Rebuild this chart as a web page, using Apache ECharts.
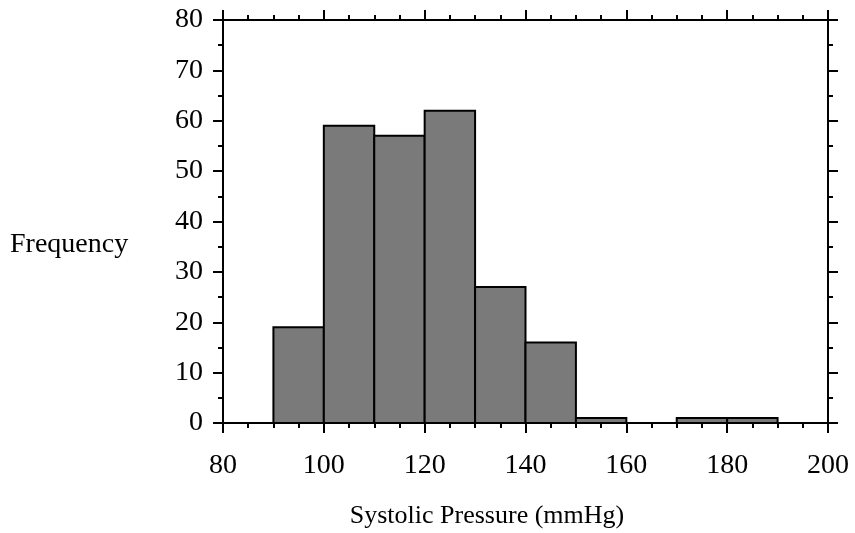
<!DOCTYPE html>
<html>
<head>
<meta charset="utf-8">
<script src="https://cdn.jsdelivr.net/npm/echarts@6/dist/echarts.min.js"></script>
<style>
  html, body { margin: 0; padding: 0; background: #ffffff; }
  #chart { width: 855px; height: 533px; }
</style>
</head>
<body>
<div id="chart"></div>
<script>
// Data
const binStarts = [90, 100, 110, 120, 130, 140, 150, 160, 170, 180];
const binWidth = 10;
const counts = [19, 59, 57, 62, 27, 16, 1, 0, 1, 1];
const xTicks = [80, 100, 120, 140, 160, 180, 200];
const yTicks = [0, 10, 20, 30, 40, 50, 60, 70, 80];
const xTitle = 'Systolic Pressure (mmHg)';
const yTitle = 'Frequency';

const FONT = '"Liberation Serif", "Times New Roman", serif';
const FS_TICK = 28;
const FS_YT = 28;
const FS_XT = 26;

const chart = echarts.init(document.getElementById('chart'), null, { renderer: 'canvas' });

const lineStyle = { color: '#000', width: 2 };
const tickCommon = { show: true, inside: false, length: 10, lineStyle: { color: '#000', width: 2 } };

const seriesData = binStarts.map((s, i) => [s, s + binWidth, counts[i]]);

const option = {
  animation: false,
  backgroundColor: '#ffffff',
  grid: { left: 223, right: 27, top: 20, bottom: 110, containLabel: false },
  xAxis: [
    {
      type: 'value', position: 'bottom', min: xTicks[0], max: xTicks[xTicks.length - 1], interval: 20,
      axisLine: { show: true, onZero: false, lineStyle },
      axisTick: tickCommon,
      minorTick: { show: true, splitNumber: 4, length: 5, lineStyle: { color: '#000', width: 2 } },
      splitLine: { show: false },
      axisLabel: { show: true, margin: 29, color: '#000', fontFamily: FONT, fontSize: FS_TICK }
    },
    {
      type: 'value', position: 'top', min: xTicks[0], max: xTicks[xTicks.length - 1], interval: 20,
      axisLine: { show: true, onZero: false, lineStyle },
      axisTick: tickCommon,
      minorTick: { show: true, splitNumber: 4, length: 5, lineStyle: { color: '#000', width: 2 } },
      splitLine: { show: false },
      axisLabel: { show: false }
    }
  ],
  yAxis: [
    {
      type: 'value', position: 'left', min: yTicks[0], max: yTicks[yTicks.length - 1], interval: 10,
      axisLine: { show: true, onZero: false, lineStyle },
      axisTick: tickCommon,
      minorTick: { show: true, splitNumber: 2, length: 5, lineStyle: { color: '#000', width: 2 } },
      splitLine: { show: false },
      axisLabel: { show: true, margin: 20, color: '#000', fontFamily: FONT, fontSize: FS_TICK }
    },
    {
      type: 'value', position: 'right', min: yTicks[0], max: yTicks[yTicks.length - 1], interval: 10,
      axisLine: { show: true, onZero: false, lineStyle },
      axisTick: tickCommon,
      minorTick: { show: true, splitNumber: 2, length: 5, lineStyle: { color: '#000', width: 2 } },
      splitLine: { show: false },
      axisLabel: { show: false }
    }
  ],
  graphic: [
    {
      type: 'text', x: 10, y: 245,
      style: { text: yTitle, fill: '#000', font: FS_YT + 'px ' + FONT, align: 'left', verticalAlign: 'middle' }
    },
    {
      type: 'text', x: 487, y: 516,
      style: { text: xTitle, fill: '#000', font: FS_XT + 'px ' + FONT, align: 'center', verticalAlign: 'middle' }
    }
  ],
  series: [
    {
      type: 'custom',
      xAxisIndex: 0, yAxisIndex: 0,
      data: seriesData,
      encode: { x: [0, 1], y: 2 },
      renderItem: function (params, api) {
        const x0 = api.value(0), x1 = api.value(1), v = api.value(2);
        if (v <= 0) return null;
        const p0 = api.coord([x0, 0]);
        const p1 = api.coord([x1, v]);
        return {
          type: 'rect',
          shape: { x: p0[0], y: p1[1], width: p1[0] - p0[0], height: p0[1] - p1[1] },
          style: { fill: '#7a7a7a', stroke: '#000', lineWidth: 2 }
        };
      },
      z: 1
    }
  ]
};
chart.setOption(option);
</script>
</body>
</html>
